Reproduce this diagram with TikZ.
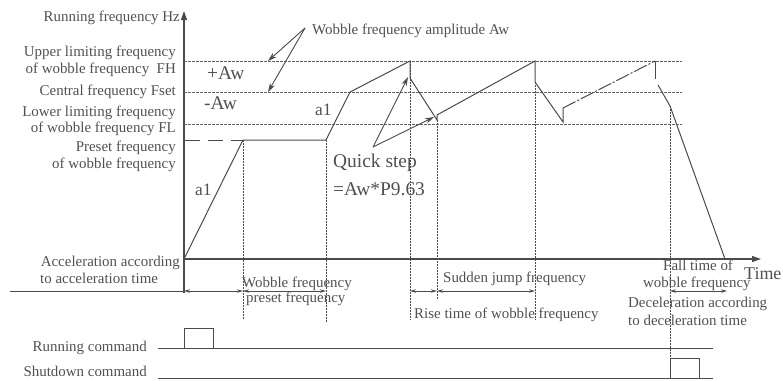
\documentclass[tikz,border=0pt]{standalone}
\usepackage{fontspec}
\setmainfont{Liberation Serif}
\usetikzlibrary{arrows.meta}
\definecolor{lc}{RGB}{75,75,75}
\definecolor{gc}{RGB}{100,100,100}
\definecolor{txt}{RGB}{80,80,80}
\begin{document}
\begin{tikzpicture}[x=1bp,y=-1bp,
  lbl/.style={inner sep=0pt, text=txt, font=\fontsize{15}{17}\selectfont},
  big/.style={inner sep=0pt, text=txt, font=\fontsize{19.5}{22}\selectfont},
  mid/.style={inner sep=0pt, text=txt, font=\fontsize{17.5}{20}\selectfont},
  ln/.style={draw=lc, line width=1bp},
  gridln/.style={draw=gc, line width=1bp, dash pattern=on 2.5bp off 1.5bp},
  vdot/.style={draw=lc, line width=0.9bp, dash pattern=on 1.5bp off 1.5bp},
  dimarr/.style={draw=lc, line width=0.9bp, {Stealth[length=6bp,width=3.5bp]}-{Stealth[length=6bp,width=3.5bp]}},
  callout/.style={draw=lc, line width=0.9bp, -{Stealth[length=9bp,width=5.5bp]}},
  axisarr/.style={draw=lc, line width=1.1bp, -{Triangle[length=9bp,width=6bp]}}
]
\useasboundingbox (0,0) rectangle (783,380);

% axes
\coordinate (O) at (184,259);
\coordinate (Ytop) at (184,11);
\coordinate (Ybot) at (184,293);
\coordinate (Tend) at (761,259);
\draw[axisarr] (Ybot) -- (Ytop);
\draw[axisarr] (O) -- (Tend);

% level lines
\coordinate (FHl) at (184,61);  \coordinate (FHr) at (682,61);
\coordinate (FSl) at (184,92);  \coordinate (FSr) at (682,92);
\coordinate (FLl) at (184,124); \coordinate (FLr) at (682,124);
\draw[gridln] (FHl) -- (FHr);
\draw[gridln] (FSl) -- (FSr);
\draw[gridln] (FLl) -- (FLr);

% curve points
\coordinate (P1) at (243,140);
\coordinate (P2) at (326,140);
\coordinate (P3) at (350,92);
\coordinate (P4) at (410,61);
\coordinate (P5) at (410,78);
\coordinate (P6) at (437,120);
\coordinate (P6b) at (437,115);
\coordinate (P7) at (535,61);
\coordinate (P8) at (535,82);
\coordinate (P9) at (563,122);
\coordinate (P10) at (563,108);
\coordinate (P11) at (655,61);
\coordinate (P12) at (655,79);
\coordinate (P13) at (658,85);
\coordinate (P14) at (670,106);
\coordinate (P15) at (725,259);
\coordinate (PFl) at (185,140);

\draw[ln, dash pattern=on 15bp off 8bp] (PFl) -- (P1);
\draw[ln] (O) -- (P1) -- (P2) -- (P3) -- (P4) -- (P5) -- (P6) -- (P6b) -- (P7) -- (P8) -- (P9) -- (P10);
\draw[ln, dash pattern=on 14bp off 2bp on 2bp off 2bp] (P10) -- (P11);
\draw[ln] (P11) -- (P12);
\draw[ln] (P13) -- (P14) -- (P15);

% vertical dotted guides
\coordinate (V1) at (243,320);
\coordinate (V2) at (326,322);
\coordinate (V3) at (410,320);
\coordinate (V4) at (437,300);
\coordinate (V5) at (535,320);
\coordinate (V6) at (670,358);
\draw[vdot] (P1) -- (V1);
\draw[vdot] (P2) -- (V2);
\draw[vdot] (P4) -- (V3);
\draw[vdot] (P6) -- (V4);
\draw[vdot] (P8) -- (V5);
\draw[vdot] (P14) -- (V6);

% dimension lines
\coordinate (D0) at (10,291);
\coordinate (D1) at (184,291);
\coordinate (D2) at (243,291);
\coordinate (D3) at (326,291);
\coordinate (D4) at (410,291);
\coordinate (D5) at (437,291);
\coordinate (D6) at (535,291);
\coordinate (D7) at (670,291);
\coordinate (D8) at (727,291);
\draw[ln, line width=0.9bp] (D0) -- (D1);
\draw[dimarr] (D1) -- (D2);
\draw[dimarr] (D2) -- (D3);
\draw[dimarr] (D4) -- (D5);
\draw[dimarr] (D5) -- (D6);
\draw[dimarr] (D7) -- (D8);

% command lines
\coordinate (R0) at (158,348); \coordinate (R1) at (713,348);
\coordinate (S0) at (158,378); \coordinate (S1) at (713,378);
\draw[ln] (R0) -- (R1);
\draw[ln] (S0) -- (S1);
\coordinate (RB1) at (184,348); \coordinate (RB2) at (213,328);
\coordinate (SB1) at (670,378); \coordinate (SB2) at (699,358);
\draw[ln] (RB1) |- (RB2) -- (RB2 |- RB1);
\draw[ln] (SB1) |- (SB2) -- (SB2 |- SB1);

% callouts
\coordinate (WA) at (305,28);
\coordinate (WT1) at (268,61);
\coordinate (WT2) at (268,92);
\draw[callout] (WA) -- (WT1);
\draw[callout] (WA) -- (WT2);
\coordinate (QA) at (373,147);
\coordinate (QT1) at (408,77);
\coordinate (QT2) at (434,117);
\draw[callout] (QA) -- (QT1);
\draw[callout] (QA) -- (QT2);

% labels
\node[lbl, anchor=base east] (yl) at (180,21) {Running frequency Hz};
\node[lbl, anchor=base west] (wfa) at (312,34) {Wobble frequency amplitude Aw};
\node[lbl, anchor=base east] (fh1) at (176,56) {Upper limiting frequency};
\node[lbl, anchor=base east] (fh2) at (176,73) {of wobble frequency\ \ FH};
\node[lbl, anchor=base east] (fs) at (176,95) {Central frequency Fset};
\node[lbl, anchor=base east] (fl1) at (176,116) {Lower limiting frequency};
\node[lbl, anchor=base east] (fl2) at (176,132) {of wobble frequency FL};
\node[lbl, anchor=base east] (pf1) at (176,151) {Preset frequency};
\node[lbl, anchor=base east] (pf2) at (176,168) {of wobble frequency};
\node[lbl, anchor=base east] (acc1) at (180,266) {Acceleration according};
\node[lbl, anchor=base west] (acc2) at (40,283) {to acceleration time};
\node[lbl, anchor=base west] (wp1) at (242,287) {Wobble frequency};
\node[lbl, anchor=base west] (wp2) at (246,302) {preset frequency};
\node[lbl, anchor=base west] (sj) at (443,282) {Sudden jump frequency};
\node[lbl, anchor=base west] (rt) at (414,318) {Rise time of wobble frequency};
\node[lbl, anchor=base west] (ft1) at (663,270) {Fall time of};
\node[lbl, anchor=base west] (ft2) at (643,287) {wobble frequency};
\node[lbl, anchor=base west] (dc1) at (628,307) {Deceleration according};
\node[lbl, anchor=base west] (dc2) at (628,325) {to deceleration time};
\node[lbl, anchor=base east] (rc) at (147,351) {Running command};
\node[lbl, anchor=base east] (sc) at (147,376) {Shutdown command};

\node[big, anchor=base west] (paw) at (207,79) {+Aw};
\node[big, anchor=base west] (maw) at (204,109) {-Aw};
\node[mid, anchor=base west] (a1a) at (195,195) {a1};
\node[mid, anchor=base west] (a1b) at (315,115) {a1};
\node[big, anchor=base west] (qs1) at (333,167) {Quick step};
\node[big, anchor=base west] (qs2) at (333,195) {=Aw*P9.63};
\node[inner sep=0pt, text=txt, font=\fontsize{18}{20}\selectfont, anchor=base west] (tm) at (744,279) {Time};
\end{tikzpicture}
\end{document}
